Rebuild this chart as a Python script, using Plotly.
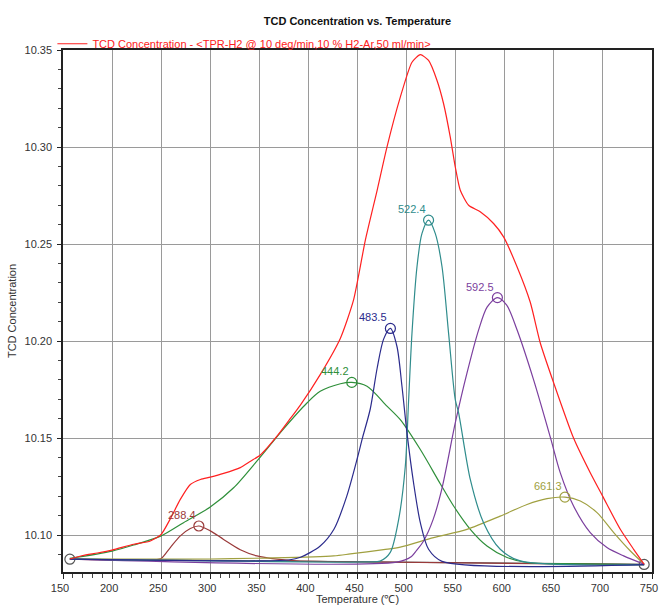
import plotly.graph_objects as go

# ---------------- data ----------------
red_T = [157, 170, 185, 200, 222, 239, 250, 259, 269.5, 279.7, 290, 300, 313.6, 330.6, 341, 351, 368, 380,
         391.8, 412, 432.6, 446, 458, 470, 480, 493.6, 505.5, 514, 522.4, 531, 537.7, 544.5, 549.6, 554.7,
         563.2, 575, 588.6, 598.8, 612.5, 626, 636.2, 649.8, 670.1, 687.1, 699.7, 717.7, 731.3, 742]
red_Y = [10.0877, 10.0895, 10.0908, 10.0923, 10.0953, 10.0970, 10.1004, 10.1081, 10.1184, 10.1261, 10.1287,
         10.1299, 10.1318, 10.1348, 10.1381, 10.1413, 10.1510, 10.1590, 10.1670, 10.1827, 10.2015, 10.2212,
         10.2520, 10.2777, 10.3000, 10.3257, 10.3437, 10.3476, 10.3446, 10.3343, 10.3223, 10.3051, 10.2897,
         10.2777, 10.2700, 10.2666, 10.2606, 10.2537, 10.2383, 10.2200, 10.1990, 10.1785, 10.1500, 10.1321,
         10.1201, 10.1030, 10.0927, 10.0850]

base_T = [157, 742]
base_Y = [10.0876, 10.0849]

brown_T = [157, 245, 250, 259.3, 269.5, 279.7, 288.4, 300, 313.6, 330.6, 347.6, 368, 388.4, 420, 742]
brown_Y = [10.0876, 10.0873, 10.0879, 10.0936, 10.0996, 10.1034, 10.1047, 10.1022, 10.0978, 10.0925,
           10.0893, 10.0876, 10.0867, 10.0864, 10.0848]

green_T = [157, 200, 222, 250, 272.8, 300, 323.8, 349.2, 374.7, 398.5, 412, 432.6, 444.2, 459.7, 480,
           493.6, 514, 534.3, 547.9, 564.9, 581.9, 602.3, 622.7, 660, 700, 742]
green_Y = [10.0880, 10.0918, 10.0949, 10.0996, 10.1064, 10.1145, 10.1244, 10.1392, 10.1548, 10.1681,
           10.1741, 10.1780, 10.1787, 10.1767, 10.1665, 10.1595, 10.1441, 10.1265, 10.1150, 10.1030,
           10.0944, 10.0885, 10.0859, 10.0853, 10.0851, 10.0848]

blue_T = [157, 350, 380, 392, 412, 426, 439, 450, 455, 463, 470, 476.6, 483.5, 490.2, 495.3, 500.4,
          507.1, 514, 522.4, 536.1, 742]
blue_Y = [10.0876, 10.0867, 10.0872, 10.0886, 10.0944, 10.1030, 10.1200, 10.1400, 10.1500, 10.1650,
          10.1860, 10.2010, 10.2065, 10.1972, 10.1767, 10.1527, 10.1270, 10.1064, 10.0927, 10.0865, 10.0848]

teal_T = [157, 460, 473, 483.4, 491.9, 498.7, 502.1, 505.5, 510.6, 515.7, 522.4, 529.2, 536.1, 542.8,
          549.6, 553, 564.9, 578.4, 595.4, 615.8, 742]
teal_Y = [10.0876, 10.0862, 10.0866, 10.0911, 10.1080, 10.1355, 10.1698, 10.2040, 10.2383, 10.2555,
          10.2623, 10.2555, 10.2383, 10.2040, 10.1698, 10.1630, 10.1287, 10.1064, 10.0927, 10.0867, 10.0848]

purple_T = [157, 490, 505, 510, 517.3, 527, 536, 549.6, 561.5, 573.4, 582, 592.5, 602, 612.5, 629.4,
            646.4, 656.6, 670.1, 687.1, 704.1, 721.1, 742]
purple_Y = [10.0876, 10.0861, 10.0890, 10.0920, 10.0970, 10.1080, 10.1240, 10.1578, 10.1835, 10.2058,
            10.2175, 10.2224, 10.2185, 10.2058, 10.1800, 10.1505, 10.1321, 10.1150, 10.1013, 10.0936,
            10.0893, 10.0850]

olive_T = [157, 300, 357, 425.7, 442.7, 476.6, 493.6, 527.5, 561.5, 595.4, 622.7, 643, 661.3, 677,
           694, 711, 728, 742]
olive_Y = [10.0876, 10.0877, 10.0882, 10.0893, 10.0903, 10.0925, 10.0938, 10.0987, 10.1030, 10.1098,
           10.1158, 10.1188, 10.1196, 10.1176, 10.1116, 10.1013, 10.0918, 10.0850]

peak_T = [288.4, 444.2, 483.5, 522.4, 592.5, 661.3]
peak_Y = [10.1047, 10.1787, 10.2065, 10.2623, 10.2224, 10.1196]
peak_colors = ["#9a3a3a", "#2f8f3a", "#2b2b8c", "#2f8c8c", "#7b3f9e", "#a0a040"]

legend_text = "TCD Concentration - <TPR-H2 @ 10 deg/min,10 % H2-Ar,50 ml/min>"
x_title = "Temperature (℃)"
y_title = "TCD Concentration"
chart_title = "TCD Concentration vs. Temperature"

FONT = "Liberation Sans, Arial, sans-serif"

fig = go.Figure()

comp = [(brown_T, brown_Y, peak_colors[0]), (green_T, green_Y, peak_colors[1]),
        (olive_T, olive_Y, peak_colors[5]), (purple_T, purple_Y, peak_colors[4]),
        (teal_T, teal_Y, peak_colors[3]), (blue_T, blue_Y, peak_colors[2])]

fig.add_trace(go.Scatter(x=base_T, y=base_Y, mode="lines+markers", showlegend=False,
                         line=dict(color="#555555", width=1.2),
                         marker=dict(symbol="circle-open", size=10, color="#555555", line=dict(width=1.2))))

for T, Y, c in comp:
    fig.add_trace(go.Scatter(x=T, y=Y, mode="lines", showlegend=False,
                             line=dict(color=c, width=1.2, shape="spline", smoothing=0.8)))

fig.add_trace(go.Scatter(x=red_T, y=red_Y, mode="lines", name=legend_text, showlegend=True,
                         line=dict(color="#ff2020", width=1.2, shape="spline", smoothing=0.6)))

fig.add_trace(go.Scatter(x=peak_T, y=peak_Y, mode="markers", showlegend=False,
                         marker=dict(symbol="circle-open", size=10, color=peak_colors,
                                     line=dict(width=1.2, color=peak_colors))))

for t, y, c in zip(peak_T, peak_Y, peak_colors):
    fig.add_annotation(x=t, y=y, text=f"{t:.1f}", showarrow=False, xanchor="right", yanchor="bottom",
                       xshift=-1, yshift=3, font=dict(family=FONT, size=11, color=c))

# x-axis title placed just below the tick labels (as in the reference, at the page bottom)
fig.add_annotation(xref="paper", yref="paper", x=0.5, y=0, text=x_title, showarrow=False,
                   xanchor="center", yanchor="bottom", yshift=-35,
                   font=dict(family=FONT, size=11, color="#333333"))

fig.update_layout(
    width=659, height=607,
    margin=dict(l=63, r=7, t=50, b=35),
    paper_bgcolor="white", plot_bgcolor="white",
    font=dict(family=FONT, size=11, color="#333333"),
    title=dict(text=f"<b>{chart_title}</b>", x=0.5, xref="paper",
               y=1 - 21 / 607, yanchor="middle", font=dict(family=FONT, size=11, color="#111111")),
    legend=dict(x=-0.018, y=1.012, xanchor="left", yanchor="middle", bgcolor="rgba(0,0,0,0)",
                font=dict(family=FONT, size=11, color="#ff2020"), itemwidth=30),
    xaxis=dict(range=[150, 750], dtick=50, tick0=150, showgrid=True, gridcolor="#9a9a9a", gridwidth=1,
               showline=True, linecolor="#222222", linewidth=1.5, mirror=True,
               ticks="outside", ticklen=5, tickcolor="#222222", zeroline=False,
               minor=dict(dtick=10, ticks="outside", ticklen=4, tickcolor="#444444", showgrid=False),
               ticklabelstandoff=0, ticklabelshift=-3, ticklabeloverflow="allow",
               automargin=False),
    yaxis=dict(range=[10.081, 10.35], dtick=0.05, tick0=10.1, tickformat=".2f", showgrid=True,
               gridcolor="#9a9a9a", gridwidth=1,
               showline=True, linecolor="#222222", linewidth=1.5, mirror=True,
               ticks="outside", ticklen=4, tickcolor="#222222", zeroline=False,
               minor=dict(dtick=0.01, ticks="outside", ticklen=3, tickcolor="#444444", showgrid=False),
               ticklabelstandoff=3,
               title=dict(text=y_title, standoff=6, font=dict(family=FONT, size=11)),
               automargin=False),
)

fig.write_html("out.html")
